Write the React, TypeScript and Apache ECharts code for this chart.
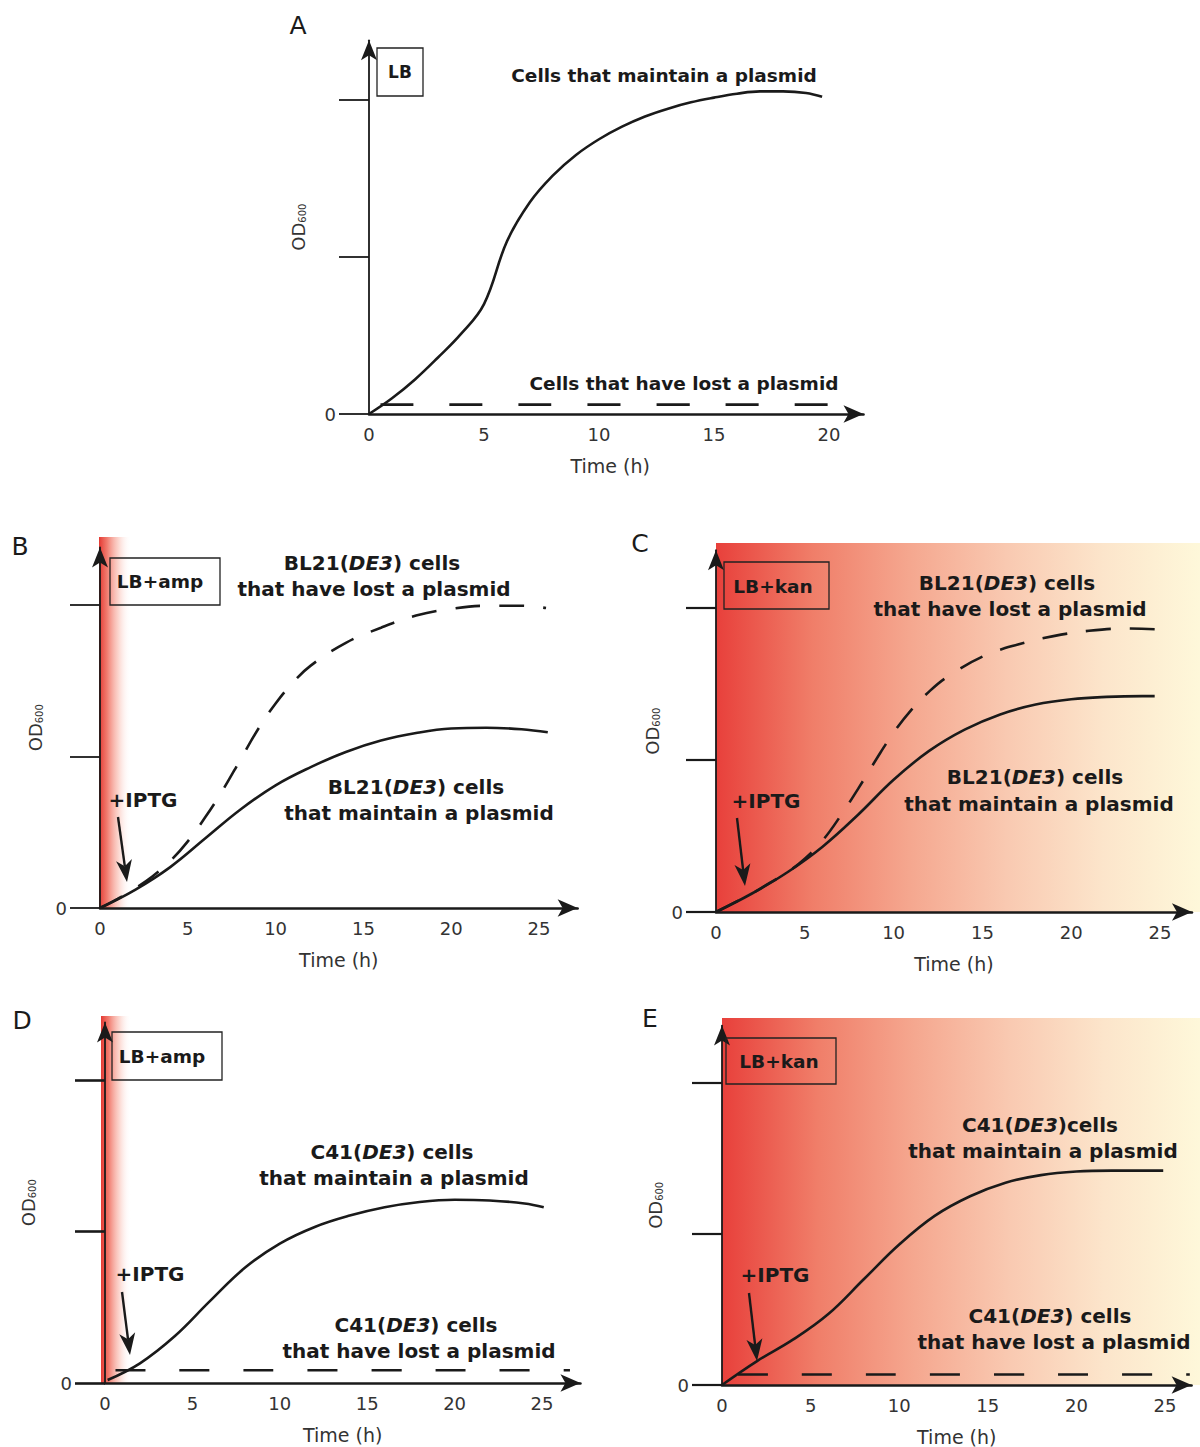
import React, { useEffect, useRef } from "react";
import * as echarts from "echarts";

// ---------------- DATA (time in h, OD600 in tick units) ----------------
const xTicksA = [0, 5, 10, 15, 20];
const xTicksBE = [0, 5, 10, 15, 20, 25];
const yTicks = [0, 1, 2];
const yLabels = [0];

// Panel A (LB)
const timeA_maintain = [0, 1, 2, 3, 4, 5, 6, 7, 8, 9, 10, 11, 12, 13, 14, 15, 16, 17, 18, 19, 19.7];
const odA_maintain = [0, 0.1, 0.22, 0.36, 0.51, 0.7, 1.1, 1.35, 1.52, 1.65, 1.75, 1.83, 1.895, 1.945, 1.985, 2.015, 2.04, 2.055, 2.055, 2.045, 2.02];
const timeA_lost = [0.5, 21.4];
const odA_lost = [0.06, 0.06];

// Panel B (BL21(DE3), LB+amp)
const timeB_maintain = [0, 2, 4, 6, 8, 10, 12, 14, 16, 18, 20, 22, 24, 25.5];
const odB_maintain = [0, 0.12, 0.27, 0.46, 0.65, 0.81, 0.93, 1.03, 1.105, 1.155, 1.185, 1.19, 1.18, 1.16];
const timeB_lost = [0, 1, 2, 3, 4, 5, 6, 7, 8, 9, 10, 11, 12, 14, 16, 18, 20, 22, 24, 25.4];
const odB_lost = [0, 0.06, 0.13, 0.21, 0.31, 0.44, 0.6, 0.78, 0.98, 1.18, 1.35, 1.49, 1.6, 1.75, 1.85, 1.93, 1.975, 1.995, 1.995, 1.98];

// Panel C (BL21(DE3), LB+kan)
const timeC_maintain = [0, 2, 4, 6, 8, 10, 12, 14, 16, 18, 20, 22, 24, 24.7];
const odC_maintain = [0, 0.12, 0.26, 0.43, 0.64, 0.87, 1.06, 1.2, 1.3, 1.365, 1.4, 1.415, 1.42, 1.42];
const timeC_lost = [0, 1, 2, 3, 4, 5, 6, 7, 8, 9, 10, 11, 12, 13, 15, 17, 19, 21, 23, 24.7];
const odC_lost = [0, 0.06, 0.12, 0.19, 0.26, 0.35, 0.47, 0.63, 0.81, 1.0, 1.18, 1.33, 1.45, 1.545, 1.68, 1.76, 1.815, 1.85, 1.865, 1.86];

// Panel D (C41(DE3), LB+amp)
const timeD_maintain = [0.15, 2, 4, 6, 8, 10, 12, 14, 16, 18, 20, 22, 24, 25.1];
const odD_maintain = [0.02, 0.13, 0.31, 0.54, 0.76, 0.92, 1.03, 1.105, 1.16, 1.195, 1.21, 1.205, 1.185, 1.16];
const timeD_lost = [0.6, 26.6];
const odD_lost = [0.084, 0.084];

// Panel E (C41(DE3), LB+kan)
const timeE_maintain = [0, 2, 4, 6, 8, 10, 12, 14, 16, 18, 20, 22, 24.9];
const odE_maintain = [0, 0.16, 0.3, 0.47, 0.7, 0.93, 1.12, 1.25, 1.34, 1.39, 1.414, 1.42, 1.42];
const timeE_lost = [0.9, 26.4];
const odE_lost = [0.07, 0.07];

// ---------------- LAYOUT / STYLE ----------------
const FONT = '"DejaVu Sans", "Liberation Sans", Arial, sans-serif';
const INK = "#1a1a1a";
const Y_MAX = 2.38;

const LAYOUT = [
  { ox: 369, oy: 414, pxH: 23, pxU: 157, xMax: 21.5, nameGap: 62, xTicks: xTicksA, tickW: 1.8, namePad: [0, 12, 0, 0] },
  { ox: 100, oy: 908, pxH: 17.56, pxU: 151.5, xMax: 27.2, nameGap: 56, xTicks: xTicksBE, tickW: 1.8, namePad: [0, 0, 0, 0] },
  { ox: 716, oy: 912, pxH: 17.76, pxU: 152, xMax: 26.8, nameGap: 55, xTicks: xTicksBE, tickW: 2.2, namePad: [0, 0, 0, 0] },
  { ox: 105, oy: 1383, pxH: 17.48, pxU: 151.5, xMax: 27.2, nameGap: 68, xTicks: xTicksBE, tickW: 2.6, namePad: [0, 0, 0, 0] },
  { ox: 722, oy: 1385, pxH: 17.72, pxU: 151, xMax: 26.5, nameGap: 58, xTicks: xTicksBE, tickW: 2.2, namePad: [0, 0, 0, 0] },
];

const PANELS = [
  { solid: [timeA_maintain, odA_maintain], dashed: [timeA_lost, odA_lost], dash: [33, 36] },
  { solid: [timeB_maintain, odB_maintain], dashed: [timeB_lost, odB_lost], dash: [25, 19] },
  { solid: [timeC_maintain, odC_maintain], dashed: [timeC_lost, odC_lost], dash: [25, 19] },
  { solid: [timeD_maintain, odD_maintain], dashed: [timeD_lost, odD_lost], dash: [30, 34] },
  { solid: [timeE_maintain, odE_maintain], dashed: [timeE_lost, odE_lost], dash: [30, 34] },
];

const zip = (xs: number[], ys: number[]) => xs.map((x, i) => [x, ys[i]]);

function txt(x: number, y: number, text: string, size = 20, bold = true) {
  return {
    type: "text",
    x,
    y,
    z: 20,
    style: {
      text,
      fontSize: size,
      fontWeight: bold ? "bold" : "normal",
      fontFamily: FONT,
      fill: INK,
      align: "center",
      verticalAlign: "middle",
    },
  };
}

function strain(x: number, y: number, pre: string, post: string, size = 20) {
  const base = { fontSize: size, fontWeight: "bold", fontFamily: FONT, fill: INK };
  return {
    type: "text",
    x,
    y,
    z: 20,
    style: {
      text: `{n|${pre}(}{i|DE3}{n|)${post}}`,
      rich: { n: base, i: { ...base, fontStyle: "italic" } },
      align: "center",
      verticalAlign: "middle",
    },
  };
}

function box(x: number, y: number, w: number, h: number) {
  return {
    type: "rect",
    z: 15,
    shape: { x, y, width: w, height: h },
    style: { fill: "none", stroke: "#222", lineWidth: 1.3 },
  };
}

function arrow(x1: number, y1: number, x2: number, y2: number) {
  const dx = x2 - x1;
  const dy = y2 - y1;
  const len = Math.hypot(dx, dy);
  const ux = dx / len;
  const uy = dy / len;
  const nx = uy;
  const ny = -ux;
  const hl = 22;
  const hw = 8;
  const notch = 16;
  const bx = x2 - hl * ux;
  const by = y2 - hl * uy;
  const mx = x2 - notch * ux;
  const my = y2 - notch * uy;
  return [
    {
      type: "line",
      z: 20,
      shape: { x1, y1, x2: mx, y2: my },
      style: { stroke: INK, lineWidth: 2.4 },
    },
    {
      type: "polygon",
      z: 20,
      shape: {
        points: [
          [x2, y2],
          [bx + hw * nx, by + hw * ny],
          [mx, my],
          [bx - hw * nx, by - hw * ny],
        ],
      },
      style: { fill: INK },
    },
  ];
}

function band(x: number, y: number, w: number, h: number) {
  return {
    type: "rect",
    z: -5,
    shape: { x, y, width: w, height: h },
    style: {
      fill: new echarts.graphic.LinearGradient(0, 0, 1, 0, [
        { offset: 0, color: "rgba(228,56,50,1)" },
        { offset: 0.25, color: "rgba(238,100,85,0.85)" },
        { offset: 0.6, color: "rgba(248,170,155,0.5)" },
        { offset: 1, color: "rgba(255,255,255,0)" },
      ]),
    },
  };
}

function wash(x: number, y: number, w: number, h: number) {
  return {
    type: "rect",
    z: -5,
    shape: { x, y, width: w, height: h },
    style: {
      fill: new echarts.graphic.LinearGradient(0, 0, 1, 0, [
        { offset: 0, color: "#e8403b" },
        { offset: 0.2, color: "#f07e69" },
        { offset: 0.4, color: "#f5a78f" },
        { offset: 0.6, color: "#f9c9b1" },
        { offset: 0.8, color: "#fce5cb" },
        { offset: 1, color: "#fef8da" },
      ]),
    },
  };
}

function buildOption() {
  const grid: any[] = [];
  const xAxis: any[] = [];
  const yAxis: any[] = [];
  const series: any[] = [];

  LAYOUT.forEach((L, i) => {
    const height = Y_MAX * L.pxU;
    grid.push({
      left: L.ox,
      top: L.oy - height,
      width: L.xMax * L.pxH,
      height,
      containLabel: false,
    });
    xAxis.push({
      type: "value",
      gridIndex: i,
      min: 0,
      max: L.xMax,
      name: "Time (h)",
      nameLocation: "middle",
      nameGap: 42,
      nameTextStyle: { fontSize: 19, color: "#333", fontFamily: FONT, padding: L.namePad },
      axisLine: {
        show: true,
        symbol: ["none", "arrow"],
        symbolSize: [13, 20],
        lineStyle: { color: INK, width: 2.6 },
      },
      axisTick: { show: false },
      splitLine: { show: false },
      axisLabel: {
        customValues: L.xTicks,
        fontSize: 18,
        color: "#333",
        fontFamily: FONT,
        margin: 11,
      },
    });
    yAxis.push({
      type: "value",
      gridIndex: i,
      min: 0,
      max: Y_MAX,
      name: "{a|OD}{s|600}",
      nameLocation: "middle",
      nameRotate: 90,
      nameGap: L.nameGap,
      nameTextStyle: {
        rich: {
          a: { fontSize: 18, color: "#333", fontFamily: FONT },
          s: { fontSize: 10, color: "#333", fontFamily: FONT, padding: [8, 0, 0, 0] },
        },
      },
      axisLine: {
        show: true,
        symbol: ["none", "arrow"],
        symbolSize: [12, 20],
        lineStyle: { color: INK, width: 1.8 },
      },
      axisTick: {
        show: true,
        customValues: yTicks,
        length: 30,
        inside: false,
        lineStyle: { color: INK, width: L.tickW },
      },
      splitLine: { show: false },
      axisLabel: {
        customValues: yLabels,
        fontSize: 18,
        color: "#333",
        fontFamily: FONT,
        margin: 33,
      },
    });

    const P = PANELS[i];
    series.push({
      type: "line",
      xAxisIndex: i,
      yAxisIndex: i,
      data: zip(P.solid[0], P.solid[1]),
      smooth: 0.4,
      showSymbol: false,
      lineStyle: { color: INK, width: 2.6 },
      z: 5,
    });
    series.push({
      type: "line",
      xAxisIndex: i,
      yAxisIndex: i,
      data: zip(P.dashed[0], P.dashed[1]),
      smooth: 0.4,
      showSymbol: false,
      lineStyle: { color: INK, width: 2.6, type: P.dash },
      z: 5,
    });
  });

  const graphic: any[] = [
    // backgrounds
    band(99, 537, 32, 371),
    wash(716, 543, 484, 369),
    band(101, 1016, 30, 367),
    wash(722, 1018, 478, 367),

    // panel letters
    txt(298, 25, "A", 25, false),
    txt(20, 546, "B", 25, false),
    txt(640, 543, "C", 25, false),
    txt(22, 1020, "D", 25, false),
    txt(650, 1018, "E", 25, false),

    // Panel A
    box(377, 48, 46, 48),
    txt(400, 72, "LB", 17),
    txt(664, 75, "Cells that maintain a plasmid", 18.5),
    txt(684, 383, "Cells that have lost a plasmid", 18.5),

    // Panel B
    box(110, 558, 110, 47),
    txt(160, 581, "LB+amp", 18.5),
    strain(372, 563, "BL21", " cells"),
    txt(374, 589, "that have lost a plasmid", 20),
    strain(416, 787, "BL21", " cells"),
    txt(419, 813, "that maintain a plasmid", 20),
    txt(143, 800, "+IPTG", 20),
    ...arrow(118, 817, 127, 882),

    // Panel C
    box(724, 562, 105, 47),
    txt(773, 586, "LB+kan", 18.5),
    strain(1007, 583, "BL21", " cells"),
    txt(1010, 609, "that have lost a plasmid", 20),
    strain(1035, 777, "BL21", " cells"),
    txt(1039, 804, "that maintain a plasmid", 20),
    txt(766, 801, "+IPTG", 20),
    ...arrow(737, 818, 745, 886),

    // Panel D
    box(112, 1032, 110, 48),
    txt(162, 1056, "LB+amp", 18.5),
    strain(392, 1152, "C41", " cells"),
    txt(394, 1178, "that maintain a plasmid", 20),
    strain(416, 1325, "C41", " cells"),
    txt(419, 1351, "that have lost a plasmid", 20),
    txt(150, 1274, "+IPTG", 20),
    ...arrow(122, 1292, 130, 1355),

    // Panel E
    box(726, 1038, 110, 46),
    txt(779, 1061, "LB+kan", 18.5),
    strain(1040, 1125, "C41", "cells"),
    txt(1043, 1151, "that maintain a plasmid", 20),
    strain(1050, 1316, "C41", " cells"),
    txt(1054, 1342, "that have lost a plasmid", 20),
    txt(775, 1275, "+IPTG", 20),
    ...arrow(749, 1293, 757, 1361),
  ];

  return {
    animation: false,
    backgroundColor: "#ffffff",
    textStyle: { fontFamily: FONT },
    grid,
    xAxis,
    yAxis,
    series,
    graphic,
  };
}

export default function App() {
  const ref = useRef<HTMLDivElement>(null);
  useEffect(() => {
    if (!ref.current) return;
    const chart = echarts.init(ref.current, undefined, { renderer: "svg" });
    chart.setOption(buildOption() as any);
    return () => chart.dispose();
  }, []);
  return (
    <div
      ref={ref}
      style={{ position: "absolute", left: 0, top: 0, width: 1200, height: 1447, background: "#fff" }}
    />
  );
}
